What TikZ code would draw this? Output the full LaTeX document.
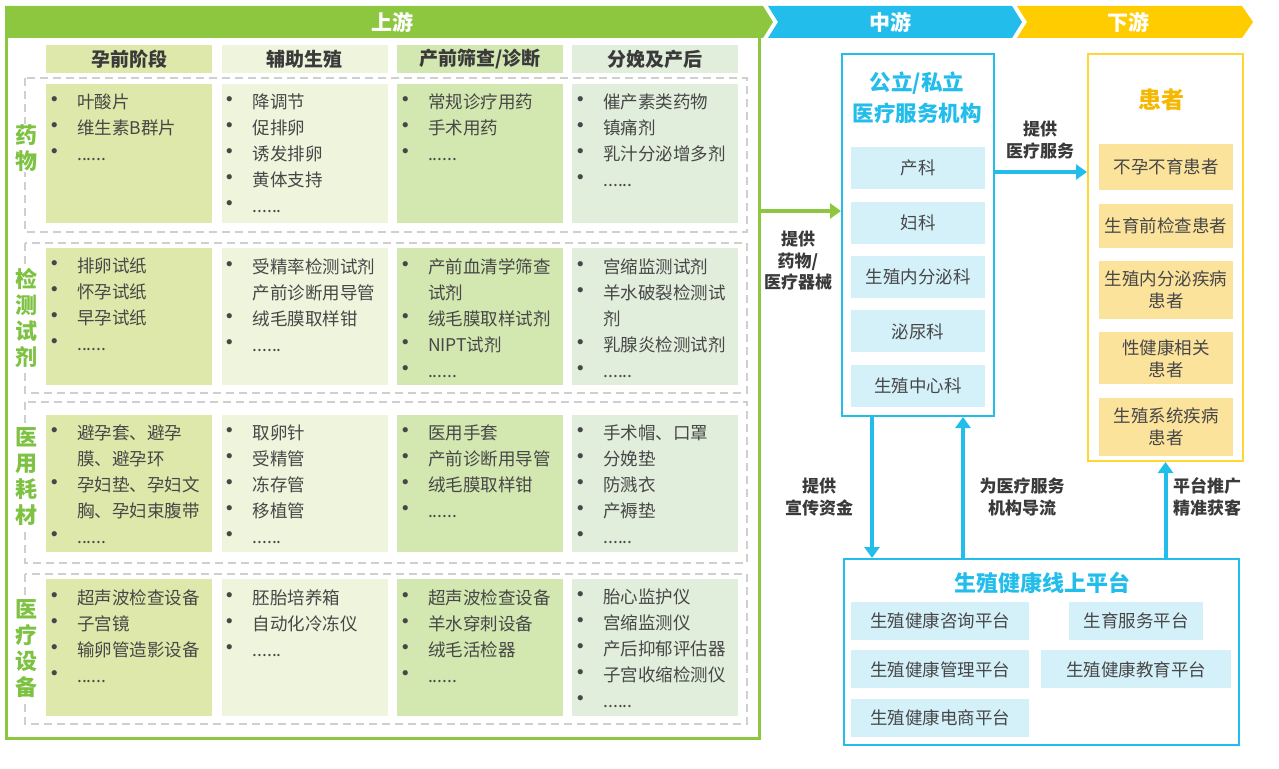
\documentclass[tikz,border=0pt]{standalone}
\usepackage{fontspec}
\setmainfont{Noto Sans CJK SC}
\usetikzlibrary{positioning,arrows.meta}

\definecolor{upgreen}{HTML}{8DC63F}
\definecolor{labgreen}{HTML}{7DC242}
\definecolor{midblue}{HTML}{22BDEB}
\definecolor{bluefill}{HTML}{D4F1FA}
\definecolor{gold}{HTML}{FFCC00}
\definecolor{goldline}{HTML}{FFD633}
\definecolor{goldfill}{HTML}{FCE39C}
\definecolor{goldtext}{HTML}{F5B700}
\definecolor{dashgray}{HTML}{CFCFCF}
\definecolor{txt}{HTML}{474747}
\definecolor{dark}{HTML}{3A3A3A}
\definecolor{colA}{HTML}{DDE8AA}
\definecolor{colB}{HTML}{EEF5DC}
\definecolor{colC}{HTML}{D3E7B0}
\definecolor{colD}{HTML}{E1EEDC}

\newcommand{\itm}[1]{\makebox[27pt][l]{\hspace*{-8pt}\scalebox{1.4}{•}}#1}
\newcommand{\cnt}[1]{\hspace*{27pt}#1}

\begin{document}
\begin{tikzpicture}[
    x=1pt, y=-1pt,
    cell/.style={minimum width=166pt, minimum height=137pt, inner sep=0pt, anchor=north west},
    items/.style={anchor=north west, align=left, inner xsep=4pt, inner ysep=10pt, text=txt, font=\fontsize{17.5}{26}\selectfont},
    head/.style={minimum width=166pt, minimum height=28pt, inner sep=0pt, anchor=north west, text=dark, font=\bfseries\fontsize{19}{19}\selectfont},
    rowlab/.style={fill=white, inner sep=1pt, align=center, text=labgreen, font=\bfseries\fontsize{22}{26}\selectfont},
    rowframe/.style={draw=dashgray, line width=1.3pt, dash pattern=on 8pt off 5pt},
    band/.style={text=white, font=\bfseries\fontsize{21}{21}\selectfont},
    hospsub/.style={fill=bluefill, minimum width=134pt, minimum height=42pt, inner sep=0pt, text=txt, font=\fontsize{17.5}{22}\selectfont},
    patsub/.style={fill=goldfill, minimum width=134pt, inner sep=0pt, align=center, text=txt, font=\fontsize{17.5}{22}\selectfont},
    platsub/.style={fill=bluefill, minimum height=38pt, inner sep=0pt, text=txt, font=\fontsize{17.5}{22}\selectfont},
    title/.style={align=center, font=\bfseries\fontsize{21.5}{31}\selectfont},
    tag/.style={align=center, text=dark, font=\bfseries\fontsize{17}{21.5}\selectfont},
    arrow/.style={line width=4pt, -{Triangle[length=11pt, width=15pt]}}
]
    \useasboundingbox (0,0) rectangle (1279,768);

    % Upstream frame and chain banner
    \node [draw=upgreen, line width=2.5pt, minimum width=753pt, minimum height=731pt, inner sep=0pt, anchor=north west] (up) at (5,6) {};
    \fill [upgreen] (5,6) -- (763,6) -- (773,22) -- (763,38) -- (5,38) -- cycle;
    \fill [midblue] (768,6) -- (1012,6) -- (1022,22) -- (1012,38) -- (768,38) -- (778,22) -- cycle;
    \fill [gold] (1017,6) -- (1242,6) -- (1253,22) -- (1242,38) -- (1017,38) -- (1027,22) -- cycle;
    \node [band] (upt) at (392,22) {上游};
    \node [band] (midt) at (890,22) {中游};
    \node [band] (downt) at (1128,22) {下游};

    % Stage headers
    \node [head, fill=colA] (h1) at (46,45) {孕前阶段};
    \node [head, fill=colB, right=9pt of h1] (h2) {辅助生殖};
    \node [head, fill=colC, right=9pt of h2] (h3) {产前筛查/诊断};
    \node [head, fill=colD, right=9pt of h3] (h4) {分娩及产后};

    % Row frames
    \draw [rowframe] (25,78) rectangle (747,232);
    \draw [rowframe] (25,243) rectangle (747,393);
    \draw [rowframe] (25,402) rectangle (747,563);
    \draw [rowframe] (25,574) rectangle (747,724);

    % Drugs
    \node [cell, fill=colA, minimum height=139pt] (d1) at (46,84) {};
    \node [cell, fill=colB, minimum height=139pt, right=9pt of d1] (d2) {};
    \node [cell, fill=colC, minimum height=139pt, right=9pt of d2] (d3) {};
    \node [cell, fill=colD, minimum height=139pt, right=9pt of d3] (d4) {};
    \node [items] (d1t) at (d1.north west) {\itm{叶酸片}\\\itm{维生素B群片}\\\itm{......}};
    \node [items] (d2t) at (d2.north west) {\itm{降调节}\\\itm{促排卵}\\\itm{诱发排卵}\\\itm{黄体支持}\\\itm{......}};
    \node [items] (d3t) at (d3.north west) {\itm{常规诊疗用药}\\\itm{手术用药}\\\itm{......}};
    \node [items] (d4t) at (d4.north west) {\itm{催产素类药物}\\\itm{镇痛剂}\\\itm{乳汁分泌增多剂}\\\itm{......}};

    % Test reagents
    \node [cell, fill=colA] (r1) at (46,248) {};
    \node [cell, fill=colB, right=9pt of r1] (r2) {};
    \node [cell, fill=colC, right=9pt of r2] (r3) {};
    \node [cell, fill=colD, right=9pt of r3] (r4) {};
    \node [items] (r1t) at (r1.north west) {\itm{排卵试纸}\\\itm{怀孕试纸}\\\itm{早孕试纸}\\\itm{......}};
    \node [items] (r2t) at (r2.north west) {\itm{受精率检测试剂}\\\cnt{产前诊断用导管}\\\itm{绒毛膜取样钳}\\\itm{......}};
    \node [items] (r3t) at (r3.north west) {\itm{产前血清学筛查}\\\cnt{试剂}\\\itm{绒毛膜取样试剂}\\\itm{NIPT试剂}\\\itm{......}};
    \node [items] (r4t) at (r4.north west) {\itm{宫缩监测试剂}\\\itm{羊水破裂检测试}\\\cnt{剂}\\\itm{乳腺炎检测试剂}\\\itm{......}};

    % Consumables
    \node [cell, fill=colA] (c1) at (46,415) {};
    \node [cell, fill=colB, right=9pt of c1] (c2) {};
    \node [cell, fill=colC, right=9pt of c2] (c3) {};
    \node [cell, fill=colD, right=9pt of c3] (c4) {};
    \node [items] (c1t) at (c1.north west) {\itm{避孕套、避孕}\\\cnt{膜、避孕环}\\\itm{孕妇垫、孕妇文}\\\cnt{胸、孕妇束腹带}\\\itm{......}};
    \node [items] (c2t) at (c2.north west) {\itm{取卵针}\\\itm{受精管}\\\itm{冻存管}\\\itm{移植管}\\\itm{......}};
    \node [items] (c3t) at (c3.north west) {\itm{医用手套}\\\itm{产前诊断用导管}\\\itm{绒毛膜取样钳}\\\itm{......}};
    \node [items] (c4t) at (c4.north west) {\itm{手术帽、口罩}\\\itm{分娩垫}\\\itm{防溅衣}\\\itm{产褥垫}\\\itm{......}};

    % Equipment
    \node [cell, fill=colA] (e1) at (46,579) {};
    \node [cell, fill=colB, right=9pt of e1] (e2) {};
    \node [cell, fill=colC, right=9pt of e2] (e3) {};
    \node [cell, fill=colD, right=9pt of e3] (e4) {};
    \node [items] (e1t) at (e1.north west) {\itm{超声波检查设备}\\\itm{子宫镜}\\\itm{输卵管造影设备}\\\itm{......}};
    \node [items] (e2t) at (e2.north west) {\itm{胚胎培养箱}\\\itm{自动化冷冻仪}\\\itm{......}};
    \node [items] (e3t) at (e3.north west) {\itm{超声波检查设备}\\\itm{羊水穿刺设备}\\\itm{绒毛活检器}\\\itm{......}};
    \node [items] (e4t) at (e4.north west) {\itm{胎心监护仪}\\\itm{宫缩监测仪}\\\itm{产后抑郁评估器}\\\itm{子宫收缩检测仪}\\\itm{......}};

    % Row labels
    \node [rowlab] (lab1) at (27,148) {药\\物};
    \node [rowlab] (lab2) at (27,318) {检\\测\\试\\剂};
    \node [rowlab] (lab3) at (27,477) {医\\用\\耗\\材};
    \node [rowlab] (lab4) at (27,649) {医\\疗\\设\\备};

    % Midstream: medical institutions
    \node [draw=midblue, line width=2pt, minimum width=152pt, minimum height=362pt, inner sep=0pt, anchor=north west] (hosp) at (841,53) {};
    \node [title, text=midblue] (hospt) at (917,98) {公立/私立\\医疗服务机构};
    \node [hospsub, anchor=north] (ck1) at (918,147) {产科};
    \node [hospsub, below=12pt of ck1] (ck2) {妇科};
    \node [hospsub, below=12pt of ck2] (ck3) {生殖内分泌科};
    \node [hospsub, below=12pt of ck3] (ck4) {泌尿科};
    \node [hospsub, below=12pt of ck4] (ck5) {生殖中心科};

    % Downstream: patients
    \node [draw=goldline, line width=2pt, minimum width=155pt, minimum height=407pt, inner sep=0pt, anchor=north west] (pat) at (1087,53) {};
    \node [title, text=goldtext, font=\bfseries\fontsize{23}{23}\selectfont] (patt) at (1161,100) {患者};
    \node [patsub, minimum height=46pt, anchor=north] (pt1) at (1166,144) {不孕不育患者};
    \node [patsub, minimum height=44pt, below=13pt of pt1] (pt2) {生育前检查患者};
    \node [patsub, minimum height=58pt, below=13pt of pt2] (pt3) {生殖内分泌疾病\\患者};
    \node [patsub, minimum height=52pt, below=13pt of pt3] (pt4) {性健康相关\\患者};
    \node [patsub, minimum height=58pt, below=13pt of pt4] (pt5) {生殖系统疾病\\患者};

    % Online platform
    \node [draw=midblue, line width=2pt, minimum width=395pt, minimum height=186pt, inner sep=0pt, anchor=north west] (plat) at (843,558) {};
    \node [title, text=midblue, font=\bfseries\fontsize{22}{22}\selectfont] (platt) at (1042,583) {生殖健康线上平台};
    \node [platsub, minimum width=178pt] (pl1) at (940,621) {生殖健康咨询平台};
    \node [platsub, minimum width=178pt, below=10pt of pl1] (pl3) {生殖健康管理平台};
    \node [platsub, minimum width=178pt, below=10pt of pl3] (pl5) {生殖健康电商平台};
    \node [platsub, minimum width=190pt, right=12pt of pl3] (pl4) {生殖健康教育平台};
    \node [platsub, minimum width=134pt, above=10pt of pl4] (pl2) {生育服务平台};

    % Flows
    \coordinate (gy) at (800,211);
    \coordinate (sy) at (1040,172);
    \draw [arrow, upgreen] (up.east |- gy) -- (hosp.west |- gy);
    \draw [arrow, midblue] (hosp.east |- sy) -- (pat.west |- sy);
    \draw [arrow, midblue] ([xshift=-46pt]hosp.south) -- ([xshift=-46pt]hosp.south |- plat.north);
    \draw [arrow, midblue] ([xshift=45pt]hosp.south |- plat.north) -- ([xshift=45pt]hosp.south);
    \draw [arrow, midblue] (plat.north -| pat.south) -- (pat.south);

    % Flow labels
    \node [tag] (supply) at (798,261) {提供\\药物/\\医疗器械};
    \node [tag] (serve) at (1040,140) {提供\\医疗服务};
    \node [tag] (fund) at (819,497) {提供\\宣传资金};
    \node [tag] (guide) at (1022,497) {为医疗服务\\机构导流};
    \node [tag] (promo) at (1207,497) {平台推广\\精准获客};
\end{tikzpicture}
\end{document}
